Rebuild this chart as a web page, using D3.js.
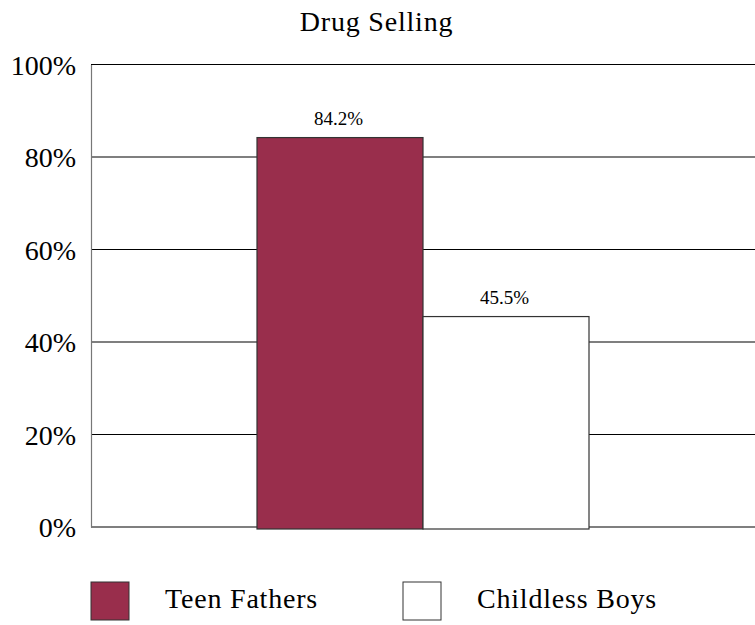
<!DOCTYPE html>
<html><head><meta charset="utf-8">
<script src="https://cdn.jsdelivr.net/npm/d3@7"></script>
<style>
html,body{margin:0;padding:0;background:#fff;}
text{font-family:"Liberation Serif","Times New Roman",serif;fill:#000;}
</style></head>
<body>
<svg id="chart" width="755" height="625"></svg>
<script>
const title = "Drug Selling";
const categories = [""];
const series = ["Teen Fathers", "Childless Boys"];
const values = [84.2, 45.5];
const labels = ["84.2%", "45.5%"];
const tickValues = [0, 20, 40, 60, 80, 100];
const tickLabels = ["0%", "20%", "40%", "60%", "80%", "100%"];
const colors = ["#992E4C", "#FFFFFF"];

const svg = d3.select("#chart");
const L = 91, R = 755, T = 64.5, B = 527;

const y = d3.scaleLinear().domain([0, 100]).range([B, T]);
const x0 = d3.scaleBand().domain(categories).range([L, R]).paddingInner(0).paddingOuter(0.5);
const x1 = d3.scaleBand().domain(series).range([0, x0.bandwidth()]).padding(0);
const color = d3.scaleOrdinal().domain(series).range(colors);

svg.append("text").attr("x", 376.5).attr("y", 31).attr("text-anchor", "middle")
  .style("font-size", "28px").style("letter-spacing", "0.8px").text(title);

// grid lines
svg.append("g").selectAll("line").data(tickValues).join("line")
  .attr("x1", L).attr("x2", R).attr("y1", d => y(d)).attr("y2", d => y(d))
  .attr("stroke", "#000").attr("stroke-width", 1.2);

// y axis
const yAxis = d3.axisLeft(y).tickValues(tickValues).tickSize(0).tickPadding(15)
  .tickFormat((d, i) => tickLabels[i]);
const ya = svg.append("g").attr("transform", `translate(${L},0)`).call(yAxis);
ya.select(".domain").attr("stroke", "#777").attr("stroke-width", 1.2);
ya.selectAll("text").style("font-size", "28px").attr("dy", "0.34em");

// bars
const g = svg.append("g");
categories.forEach(cat => {
  const rows = series.map((s, i) => ({s, v: values[i], l: labels[i]}));
  g.selectAll("rect.bar").data(rows).join("rect")
    .attr("class", "bar")
    .attr("x", d => x0(cat) + x1(d.s))
    .attr("width", x1.bandwidth())
    .attr("y", d => y(d.v))
    .attr("height", d => y(0) - y(d.v) + 2)
    .attr("fill", d => color(d.s))
    .attr("stroke", "#333").attr("stroke-width", 1.2);
  g.selectAll("text.lbl").data(rows).join("text")
    .attr("class", "lbl")
    .attr("x", d => x0(cat) + x1(d.s) + x1.bandwidth() / 2 - 1.5)
    .attr("y", d => y(d.v) - 13)
    .attr("text-anchor", "middle")
    .style("font-size", "19px")
    .text(d => d.l);
});

// legend
const legX = [91, 403];
const leg = svg.append("g");
series.forEach((s, i) => {
  leg.append("rect").attr("x", legX[i]).attr("y", 582).attr("width", 38).attr("height", 38)
    .attr("fill", color(s)).attr("stroke", "#333").attr("stroke-width", 1);
  leg.append("text").attr("x", legX[i] + 74).attr("y", 608)
    .style("font-size", "28px").style("letter-spacing", "0.8px").text(s);
});
</script>
</body></html>
